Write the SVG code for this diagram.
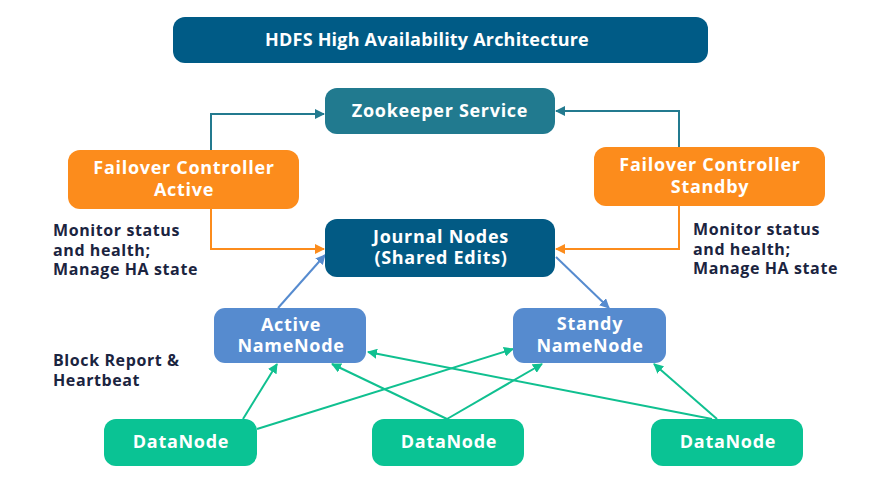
<svg xmlns="http://www.w3.org/2000/svg" width="893" height="503" viewBox="0 0 893 503">
<defs>
<style>
.t{font-family:"Open Sans","Noto Sans","DejaVu Sans",sans-serif;font-weight:700;fill:#fff;text-anchor:middle;font-size:18px;letter-spacing:0.7px}
.lbl{font-family:"Open Sans","Noto Sans","DejaVu Sans",sans-serif;font-weight:700;fill:#1b2440;font-size:16px;letter-spacing:0.6px}
.teal{stroke:#237a8f;stroke-width:2;fill:none}
.orng{stroke:#fc8c1c;stroke-width:2;fill:none}
.blue{stroke:#568bcf;stroke-width:2;fill:none}
.grn{stroke:#10c090;stroke-width:2;fill:none}
</style>
<marker id="aT" viewBox="0 0 10 10" refX="9" refY="5" markerWidth="5" markerHeight="5" orient="auto" markerUnits="strokeWidth"><path d="M0,0L10,5L0,10z" fill="#237a8f"/></marker>
<marker id="aO" viewBox="0 0 10 10" refX="9" refY="5" markerWidth="5" markerHeight="5" orient="auto" markerUnits="strokeWidth"><path d="M0,0L10,5L0,10z" fill="#fc8c1c"/></marker>
<marker id="aB" viewBox="0 0 10 10" refX="9" refY="5" markerWidth="5" markerHeight="5" orient="auto" markerUnits="strokeWidth"><path d="M0,0L10,5L0,10z" fill="#568bcf"/></marker>
<marker id="aG" viewBox="0 0 10 10" refX="9" refY="5" markerWidth="5" markerHeight="5" orient="auto" markerUnits="strokeWidth"><path d="M0,0L10,5L0,10z" fill="#10c090"/></marker>
</defs>
<rect width="893" height="503" fill="#fff"/>

<g id="connectors">
<path class="teal" d="M211,150V114H324" marker-end="url(#aT)"/>
<path class="teal" d="M679,147V111H556" marker-end="url(#aT)"/>
<path class="orng" d="M211,209V249H324" marker-end="url(#aO)"/>
<path class="orng" d="M679,206V249H556" marker-end="url(#aO)"/>
<path class="blue" d="M278,308L325,255" marker-end="url(#aB)"/>
<path class="blue" d="M556,257L609,308" marker-end="url(#aB)"/>
<path class="grn" d="M243,419L277,364" marker-end="url(#aG)"/>
<path class="grn" d="M257,429L513,349" marker-end="url(#aG)"/>
<path class="grn" d="M447,419L332,364" marker-end="url(#aG)"/>
<path class="grn" d="M447,419L542,364" marker-end="url(#aG)"/>
<path class="grn" d="M712,419L368,352" marker-end="url(#aG)"/>
<path class="grn" d="M717,419L654,364" marker-end="url(#aG)"/>
</g>

<g id="title">
<rect x="173" y="17" width="535" height="46" rx="12" fill="#005b86"/>
<text class="t" x="427" y="46" style="letter-spacing:0.2px">HDFS High Availability Architecture</text>
</g>
<g id="zookeeper">
<rect x="325" y="88" width="230" height="46" rx="12" fill="#217a8f"/>
<text class="t" x="440" y="117">Zookeeper Service</text>
</g>
<g id="fc-active">
<rect x="68" y="150" width="231" height="59" rx="12" fill="#fc8c1c"/>
<text class="t" x="184" y="174">Failover Controller</text>
<text class="t" x="184" y="196">Active</text>
</g>
<g id="fc-standby">
<rect x="594" y="147" width="231" height="59" rx="12" fill="#fc8c1c"/>
<text class="t" x="710" y="171">Failover Controller</text>
<text class="t" x="710" y="193">Standby</text>
</g>
<g id="journal">
<rect x="325" y="219" width="230" height="58" rx="12" fill="#025a84"/>
<text class="t" x="441" y="243">Journal Nodes</text>
<text class="t" x="441" y="264">(Shared Edits)</text>
</g>
<g id="active-nn">
<rect x="214" y="308" width="152" height="55" rx="11" fill="#568bcf"/>
<text class="t" x="291" y="331">Active</text>
<text class="t" x="291" y="352">NameNode</text>
</g>
<g id="standby-nn">
<rect x="513" y="308" width="153" height="55" rx="11" fill="#568bcf"/>
<text class="t" x="590" y="330">Standy</text>
<text class="t" x="590" y="352">NameNode</text>
</g>
<g id="datanode-1">
<rect x="104" y="419" width="153" height="47" rx="12" fill="#0ac394"/>
<text class="t" x="181" y="448">DataNode</text>
</g>
<g id="datanode-2">
<rect x="372" y="419" width="152" height="47" rx="12" fill="#0ac394"/>
<text class="t" x="449" y="448">DataNode</text>
</g>
<g id="datanode-3">
<rect x="651" y="419" width="152" height="47" rx="12" fill="#0ac394"/>
<text class="t" x="728" y="448">DataNode</text>
</g>

<g id="labels">
<text class="lbl" x="53" y="236">Monitor status</text>
<text class="lbl" x="53" y="256">and health;</text>
<text class="lbl" x="53" y="275">Manage HA state</text>
<text class="lbl" x="693" y="235">Monitor status</text>
<text class="lbl" x="693" y="255">and health;</text>
<text class="lbl" x="693" y="274">Manage HA state</text>
<text class="lbl" x="53" y="366">Block Report &amp;</text>
<text class="lbl" x="53" y="386">Heartbeat</text>
</g>
</svg>
